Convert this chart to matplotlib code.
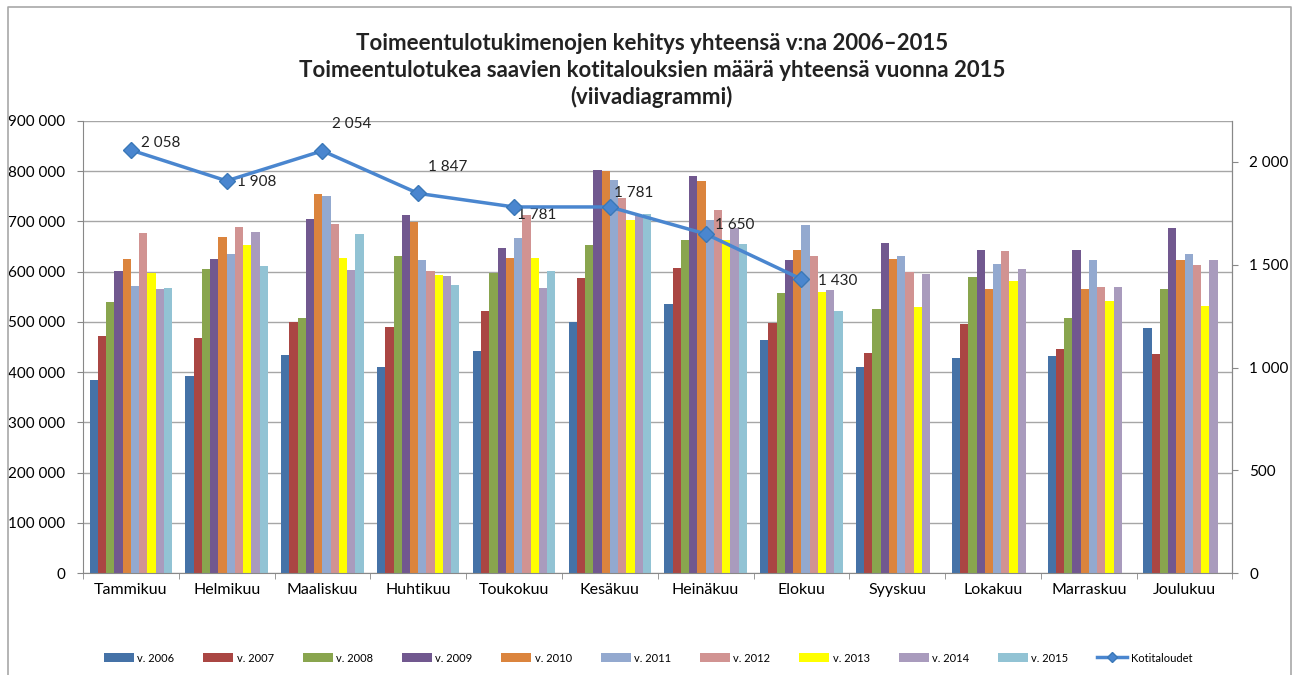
import numpy as np
import matplotlib
matplotlib.use('agg')
import matplotlib.pyplot as plt
from matplotlib.ticker import FuncFormatter
from matplotlib.lines import Line2D

plt.rcParams['font.family'] = ['Lato', 'DejaVu Sans']

months = ["Tammikuu", "Helmikuu", "Maaliskuu", "Huhtikuu", "Toukokuu", "Kesäkuu",
          "Heinäkuu", "Elokuu", "Syyskuu", "Lokakuu", "Marraskuu", "Joulukuu"]
years = ["v. 2006", "v. 2007", "v. 2008", "v. 2009", "v. 2010",
         "v. 2011", "v. 2012", "v. 2013", "v. 2014", "v. 2015"]

nan = np.nan
v2006 = [384000, 392000, 434000, 410000, 442000, 500000, 536000, 464000, 410000, 429000, 432000, 488000]
v2007 = [471000, 468000, 500000, 490000, 522000, 587000, 608000, 498000, 438000, 495000, 445000, 435000]
v2008 = [539000, 606000, 507000, 631000, 597000, 652000, 662000, 558000, 526000, 589000, 507000, 565000]
v2009 = [601000, 625000, 705000, 713000, 647000, 802000, 790000, 623000, 656000, 642000, 642000, 686000]
v2010 = [625000, 669000, 755000, 698000, 628000, 800000, 780000, 642000, 625000, 565000, 565000, 623000]
v2011 = [572000, 635000, 751000, 623000, 666000, 782000, 703000, 693000, 631000, 616000, 623000, 635000]
v2012 = [676000, 688000, 695000, 601000, 713000, 747000, 723000, 631000, 599000, 640000, 569000, 613000]
v2013 = [597000, 652000, 628000, 594000, 628000, 703000, 662000, 560000, 530000, 581000, 541000, 532000]
v2014 = [565000, 679000, 603000, 591000, 567000, 713000, 687000, 563000, 595000, 606000, 569000, 623000]
v2015 = [567000, 611000, 674000, 573000, 601000, 715000, 654000, 522000, nan, nan, nan, nan]
series = [v2006, v2007, v2008, v2009, v2010, v2011, v2012, v2013, v2014, v2015]

kotitaloudet = [2058, 1908, 2054, 1847, 1781, 1781, 1650, 1430, nan, nan, nan, nan]

colors = ["#4572A7", "#AA4643", "#89A54E", "#71588F", "#DB843D",
          "#93A9CF", "#D19392", "#FFFF00", "#A99BBD", "#92C3D4"]
line_color = "#4A86CF"

# label offsets (points) as in the original
label_off = [(7.5, 5), (7.5, -1), (7, 19), (7, 19), (2.5, -6), (3, 10), (6.5, 6.5), (12, -1)]

fig = plt.figure(figsize=(12.96, 6.75), dpi=100)
# outer chart frame (left, top, right)
fig.lines.append(Line2D([0.0062, 0.0062, 0.9961, 0.9961], [0.0, 0.9896, 0.9896, 0.0],
                        transform=fig.transFigure, color="#A8A8A8", lw=1.2))
ax = fig.add_axes([0.064, 0.151, 0.887, 0.670])

x = np.arange(len(months))
bw = 0.086
n = len(series)
for i, (vals, c, lab) in enumerate(zip(series, colors, years)):
    ax.bar(x + (i - (n - 1) / 2) * bw, vals, width=bw, color=c, label=lab, zorder=2)

fmt = FuncFormatter(lambda v, p: f"{int(v):,}".replace(",", " "))

ax.set_xlim(-0.5, len(months) - 0.5)
ax.set_ylim(0, 900000)
ax.set_yticks(np.arange(0, 900001, 100000))
ax.yaxis.set_major_formatter(fmt)
ax.yaxis.grid(True, color="#A6A6A6", lw=1, zorder=0)
ax.set_xticks(x)
ax.set_xticklabels(months, fontsize=11.5)
ax.set_xticks(np.arange(-0.5, len(months), 1), minor=True)
ax.tick_params(axis='x', which='major', length=0, pad=7)
ax.tick_params(axis='x', which='minor', length=4, color="#888888")
ax.tick_params(axis='y', labelsize=11, length=4, color="#888888", pad=9)
ax.spines["top"].set_visible(False)
for s in ["left", "bottom", "right"]:
    ax.spines[s].set_color("#888888")

ax2 = ax.twinx()
ax2.plot(x, kotitaloudet, color=line_color, lw=2.5, marker="D", markersize=8,
         markerfacecolor=line_color, markeredgecolor="#3A78B8", label="Kotitaloudet", zorder=5)
for xi, yi, off in zip(x, kotitaloudet, label_off):
    ax2.annotate(fmt(yi, None), (xi, yi), xytext=off,
                 textcoords="offset points", fontsize=11, color="#222222", va="center")
ax2.set_ylim(0, 2200)
ax2.set_yticks([0, 500, 1000, 1500, 2000])
ax2.yaxis.set_major_formatter(fmt)
ax2.tick_params(axis='y', labelsize=11, length=4, color="#888888", pad=8)
for s in ["top", "left", "bottom"]:
    ax2.spines[s].set_visible(False)
ax2.spines["right"].set_color("#888888")

title_lines = ["Toimeentulotukimenojen kehitys yhteensä v:na 2006–2015",
               "Toimeentulotukea saavien kotitalouksien määrä yhteensä vuonna 2015",
               "(viivadiagrammi)"]
for t, yy in zip(title_lines, [0.935, 0.896, 0.856]):
    fig.text(0.503, yy, t, ha="center", va="center", fontsize=16,
             fontweight="bold", color="#222222")

h1, l1 = ax.get_legend_handles_labels()
h2, l2 = ax2.get_legend_handles_labels()
fig.legend(h1 + h2, l1 + l2, loc="center", bbox_to_anchor=(0.5, 0.025), ncol=11,
           frameon=False, fontsize=8, handlelength=2.7, handleheight=0.9,
           columnspacing=2.6, handletextpad=0.3, markerscale=0.6)

plt.savefig("out.png", dpi=100)
